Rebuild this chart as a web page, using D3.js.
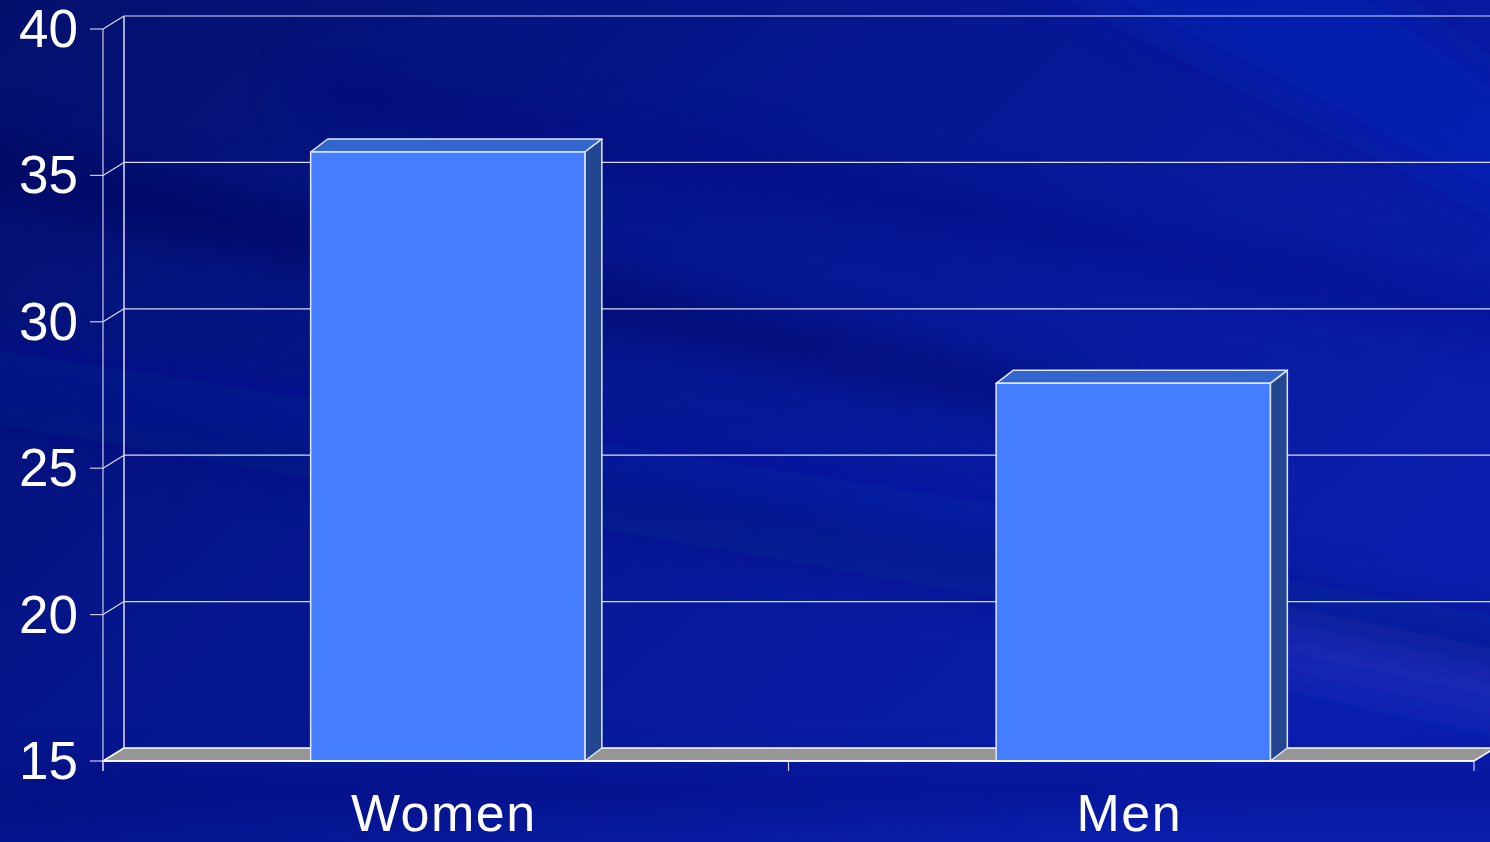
<!DOCTYPE html>
<html>
<head>
<meta charset="utf-8">
<script src="https://cdn.jsdelivr.net/npm/d3@7"></script>
<style>
html,body{margin:0;padding:0;background:#061590;overflow:hidden;}
svg{display:block;}
text{font-family:"Liberation Sans",Arial,sans-serif;fill:#ffffff;}
</style>
</head>
<body>
<svg id="chart" width="1490" height="842"></svg>
<script>
const categories = ["Women", "Men"];
const values = [35.8, 27.9];
const yTicks = [15, 20, 25, 30, 35, 40];

const W = 1490, H = 842;
const svg = d3.select("#chart");
const defs = svg.append("defs");

// background gradient
const bg = defs.append("linearGradient").attr("id","bg")
  .attr("x1","0").attr("y1","0").attr("x2","1").attr("y2","0.6");
bg.append("stop").attr("offset","0").attr("stop-color","#03106c");
bg.append("stop").attr("offset","0.45").attr("stop-color","#06168f");
bg.append("stop").attr("offset","1").attr("stop-color","#0a1fae");
svg.append("rect").attr("width",W).attr("height",H).attr("fill","url(#bg)");

defs.append("filter").attr("id","soft").attr("filterUnits","userSpaceOnUse")
  .attr("x",-300).attr("y",-300).attr("width",2200).attr("height",1500)
  .append("feGaussianBlur").attr("stdDeviation", 22);

// soft streaks
const streaks = [
  {pts:[[-200,90],[1100,390],[1100,430],[-200,160]], c:"#020b55", o:0.45},
  {pts:[[-200,320],[1100,520],[1100,560],[-200,390]], c:"#0b20b8", o:0.35},
  {pts:[[-200,330],[1700,650],[1700,720],[-200,390]], c:"#02106e", o:0.35},
  {pts:[[1250,625],[1700,720],[1700,750],[1250,655]], c:"#3038c8", o:0.7},
  {pts:[[900,-100],[1250,-100],[1700,220],[1700,310]], c:"#0c24c4", o:0.45},
  {pts:[[-200,780],[1700,765],[1700,800],[-200,815]], c:"#03106c", o:0.4},
  {pts:[[300,60],[1700,330],[1700,380],[300,110]], c:"#02107a", o:0.3}
];
svg.append("g").attr("filter","url(#soft)").selectAll("polygon").data(streaks).join("polygon")
  .attr("points", d => d.pts.map(p => p.join(",")).join(" "))
  .attr("fill", d => d.c).attr("opacity", d => d.o);

// geometry
const x0 = 103, x1 = 1474;
const wallDx = 21, wallDy = -13;
const barDx = 17, barDy = -13;

const y = d3.scaleLinear().domain([15, 40]).range([761, 29]);
const x = d3.scaleBand().domain(categories).range([x0, x1]).paddingInner(0).paddingOuter(0);
const barW = x.bandwidth() * 0.4;

const g = svg.append("g");
const gridColor = "#d8dcf0";

// back wall gridlines
g.selectAll(".grid").data(yTicks.filter(t => t > 15)).join("line")
  .attr("x1", x0 + wallDx).attr("x2", x1 + wallDx)
  .attr("y1", d => y(d) + wallDy).attr("y2", d => y(d) + wallDy)
  .attr("stroke", gridColor).attr("stroke-width", 1.2);
// side wall diagonals
g.selectAll(".diag").data(yTicks).join("line")
  .attr("x1", x0).attr("y1", d => y(d))
  .attr("x2", x0 + wallDx).attr("y2", d => y(d) + wallDy)
  .attr("stroke", gridColor).attr("stroke-width", 1.2);
// back wall left edge
g.append("line").attr("x1", x0 + wallDx).attr("x2", x0 + wallDx)
  .attr("y1", y(40) + wallDy).attr("y2", y(15) + wallDy)
  .attr("stroke", gridColor).attr("stroke-width", 1.5);

// floor
g.append("polygon")
  .attr("points", [[x0, y(15)], [x1, y(15)], [x1 + wallDx, y(15) + wallDy], [x0 + wallDx, y(15) + wallDy]].map(p => p.join(",")).join(" "))
  .attr("fill", "#969696").attr("stroke", "#ffffff").attr("stroke-width", 1.5);

// y axis
g.append("line").attr("x1", x0).attr("x2", x0).attr("y1", y(40)).attr("y2", y(15) + 10)
  .attr("stroke", "#c8cce8").attr("stroke-width", 1.2);
g.selectAll(".ytick").data(yTicks).join("line")
  .attr("x1", x0 - 13).attr("x2", x0).attr("y1", d => y(d)).attr("y2", d => y(d))
  .attr("stroke", "#c8cce8").attr("stroke-width", 1.2);
g.selectAll(".ylab").data(yTicks).join("text")
  .attr("x", 78).attr("y", d => y(d) + 18)
  .attr("text-anchor", "end").attr("font-size", 53)
  .text(d => d);

// bars
const bars = g.selectAll(".bar").data(categories.map((c, i) => ({c, v: values[i]}))).join("g");
bars.each(function(d) {
  const s = d3.select(this);
  const bx = x(d.c) + (x.bandwidth() - barW) / 2 + 2;
  const top = y(d.v), bot = y(15);
  s.append("polygon")
    .attr("points", [[bx, top], [bx + barW, top], [bx + barW + barDx, top + barDy], [bx + barDx, top + barDy]].map(p => p.join(",")).join(" "))
    .attr("fill", "#3366cc").attr("stroke", "#dfe6ff").attr("stroke-width", 1.5).attr("stroke-linejoin","round");
  s.append("polygon")
    .attr("points", [[bx + barW, top], [bx + barW + barDx, top + barDy], [bx + barW + barDx, bot + barDy], [bx + barW, bot]].map(p => p.join(",")).join(" "))
    .attr("fill", "#224690").attr("stroke", "#dfe6ff").attr("stroke-width", 1.5).attr("stroke-linejoin","round");
  s.append("rect").attr("x", bx).attr("y", top).attr("width", barW).attr("height", bot - top)
    .attr("fill", "#447eff").attr("stroke", "#dfe6ff").attr("stroke-width", 1.5);
});

// x axis front line and ticks
g.append("line").attr("x1", x0).attr("x2", x1).attr("y1", y(15)).attr("y2", y(15))
  .attr("stroke", "#ffffff").attr("stroke-width", 1.5);
g.selectAll(".xtick").data([x0, ...categories.map(c => x(c) + x.bandwidth())]).join("line")
  .attr("x1", d => d).attr("x2", d => d).attr("y1", y(15)).attr("y2", y(15) + 10)
  .attr("stroke", "#c8cce8").attr("stroke-width", 1.2);

g.selectAll(".xlab").data(categories).join("text")
  .attr("x", d => x(d) + x.bandwidth() / 2 - 2).attr("y", 831)
  .attr("text-anchor", "middle").attr("font-size", 52)
  .attr("letter-spacing", 1.5)
  .text(d => d);
</script>
</body>
</html>
